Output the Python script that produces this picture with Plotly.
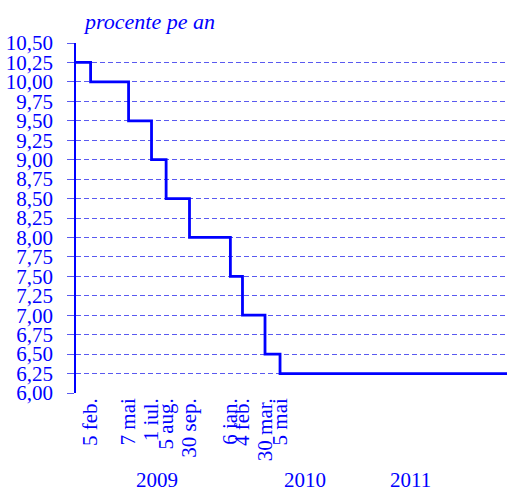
import plotly.graph_objects as go

# ─── Data ────────────────────────────────────────────────────────────────
CHANGE_DATES = [
    "2009-01-01", "2009-02-05", "2009-05-07", "2009-07-01", "2009-08-05",
    "2009-09-30", "2010-01-06", "2010-02-04", "2010-03-30", "2010-05-05",
    "2011-10-31",
]
RATES = [10.25, 10.00, 9.50, 9.00, 8.50, 8.00, 7.50, 7.00, 6.50, 6.25, 6.25]

TICK_DATES = CHANGE_DATES[1:10]
TICK_LABELS = [
    "5 feb.", "7 mai", "1 iul.", "5 aug.", "30 sep.",
    "6 ian.", "4 feb.", "30 mar.", "5 mai",
]
YEAR_LABELS = ["2009", "2010", "2011"]
YEAR_POS = ["2009-07-15", "2010-07-05", "2011-03-14"]

BLUE = "#0000ff"
GRID = "#5a5af0"
FONT = "Liberation Serif, Times New Roman, serif"

fig = go.Figure()

fig.add_trace(go.Scatter(
    x=CHANGE_DATES, y=RATES,
    mode="lines",
    line=dict(shape="hv", width=2.8, color=BLUE),
    showlegend=False,
))

# year labels under the date ticks
for label, pos in zip(YEAR_LABELS, YEAR_POS):
    fig.add_annotation(
        x=pos, y=-0.248, xref="x", yref="paper",
        text=label, showarrow=False,
        font=dict(family=FONT, size=21, color=BLUE),
        xanchor="center", yanchor="middle",
    )

fig.add_annotation(
    x=0.012, y=1.06, xref="paper", yref="paper",
    text="<i>procente pe an</i>", showarrow=False,
    font=dict(family=FONT, size=22, color=BLUE),
    xanchor="left", yanchor="middle",
)

fig.update_layout(
    width=507, height=491,
    margin=dict(l=76, r=0, t=43, b=98),
    paper_bgcolor="white",
    plot_bgcolor="white",
    separators=", ",
    font=dict(family=FONT, color=BLUE),
    xaxis=dict(
        type="date",
        range=["2009-01-01", "2011-10-31"],
        tickmode="array",
        tickvals=TICK_DATES,
        ticktext=TICK_LABELS,
        tickangle=-90,
        tickfont=dict(family=FONT, size=21, color=BLUE),
        showgrid=False,
        zeroline=False,
        showline=False,
        ticks="",
        automargin=False,
    ),
    yaxis=dict(
        range=[6.0, 10.5],
        tickmode="linear",
        tick0=6.0,
        dtick=0.25,
        tickformat=".2f",
        tickfont=dict(family=FONT, size=21, color=BLUE),
        showgrid=True,
        gridcolor=GRID,
        gridwidth=1,
        griddash="5px,3px",
        zeroline=False,
        showline=True,
        linecolor=BLUE,
        linewidth=1.5,
        ticks="outside",
        ticklen=7,
        tickcolor=GRID,
        ticklabelstandoff=10,
        automargin=False,
    ),
)

# drop the default 8px body margin so the figure fills the window exactly
fig.write_html(
    "out.html",
    config={"displayModeBar": False},
    post_script="document.body.style.margin='0';",
)
